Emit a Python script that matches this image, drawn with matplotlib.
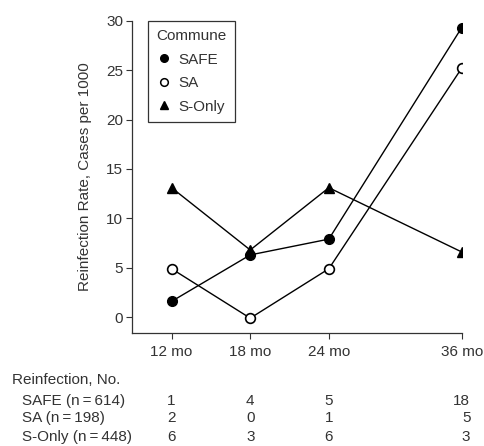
import matplotlib
matplotlib.use('Agg')
import matplotlib.pyplot as plt
from matplotlib.lines import Line2D
import matplotlib.transforms as mtransforms

plt.rcParams['font.family'] = ['Liberation Sans', 'DejaVu Sans']

# 数据
months = ['12 mo', '18 mo', '24 mo', '36 mo']
x_pos = [0, 1, 2, 3.69]
safe_rate = [1.6, 6.3, 7.9, 29.3]
sa_rate = [4.9, -0.1, 4.9, 25.2]
sonly_rate = [13.1, 6.8, 13.1, 6.6]

row_labels = ['SAFE (n\u2009=\u2009614)', 'SA (n\u2009=\u2009198)', 'S-Only (n\u2009=\u2009448)']
safe_counts = [1, 4, 5, 18]
sa_counts = [2, 0, 1, 5]
sonly_counts = [6, 3, 6, 3]

text_color = '#333333'
fs = 11
W, H = 484, 446

fig = plt.figure(figsize=(W / 100, H / 100), dpi=100)
ax = fig.add_axes([132.3 / W, 1 - 333 / H, (461.7 - 132.3) / W, (333 - 20.7) / H])

ax.plot(x_pos, safe_rate, '-', color='black', lw=1, marker='o', ms=7,
        mfc='black', mec='black', zorder=3)
ax.plot(x_pos, sa_rate, '-', color='black', lw=1, marker='o', ms=7,
        mfc='white', mec='black', mew=1.2, zorder=3)
ax.plot(x_pos, sonly_rate, '-', color='black', lw=1, marker='^', ms=7,
        mfc='black', mec='black', zorder=3)

ax.set_xlim(-0.5, 3.69)
ax.set_ylim(-1.6, 30)
ax.set_xticks(x_pos)
ax.set_xticklabels(months)
ax.set_yticks([0, 5, 10, 15, 20, 25, 30])
ax.tick_params(direction='out', length=4, width=0.8, colors='#333333',
               labelsize=fs, labelcolor=text_color, pad=2.5)
ax.tick_params(axis='x', pad=5)
for s in ['top', 'right']:
    ax.spines[s].set_visible(False)
for s in ['left', 'bottom']:
    ax.spines[s].set_color('#333333')
    ax.spines[s].set_linewidth(0.9)

ax.set_ylabel('Reinfection Rate, Cases per 1000', fontsize=fs, color=text_color, labelpad=10)

# 图例
handles = [
    Line2D([], [], ls='', marker='o', ms=5.5, mfc='black', mec='black'),
    Line2D([], [], ls='', marker='o', ms=5.5, mfc='white', mec='black', mew=1.1),
    Line2D([], [], ls='', marker='^', ms=5.5, mfc='black', mec='black'),
]
leg = ax.legend(handles, ['SAFE', 'SA', 'S-Only'], title='Commune',
                loc='upper left', bbox_to_anchor=(0.0486, 1.0), borderaxespad=0,
                fontsize=fs, title_fontsize=fs, handlelength=1.0,
                handletextpad=0.4, labelspacing=0.62, borderpad=0.55,
                fancybox=False, edgecolor='#333333', framealpha=1)
leg._legend_box.align = 'left'
leg.get_frame().set_linewidth(0.9)
for t in leg.get_texts():
    t.set_color(text_color)
leg.get_title().set_color(text_color)

# 下方表格
trans = mtransforms.blended_transform_factory(ax.transData, fig.transFigure)
fig.text(11.7 / W, 1 - 380 / H, 'Reinfection, No.', fontsize=fs,
         color=text_color, va='center', ha='left')
rows_y = [401, 418.3, 436.7]
for label, counts, yy in zip(row_labels, [safe_counts, sa_counts, sonly_counts], rows_y):
    fig.text(21.7 / W, 1 - yy / H, label, fontsize=fs, color=text_color,
             va='center', ha='left')
    for i, c in enumerate(counts):
        if i == len(counts) - 1:
            ax.text(3.80, 1 - yy / H, str(c), transform=trans, fontsize=fs,
                    color=text_color, va='center', ha='right', clip_on=False)
        else:
            ax.text(x_pos[i], 1 - yy / H, str(c), transform=trans, fontsize=fs,
                    color=text_color, va='center', ha='center', clip_on=False)

fig.savefig('out.png', dpi=100)
plt.close(fig)
